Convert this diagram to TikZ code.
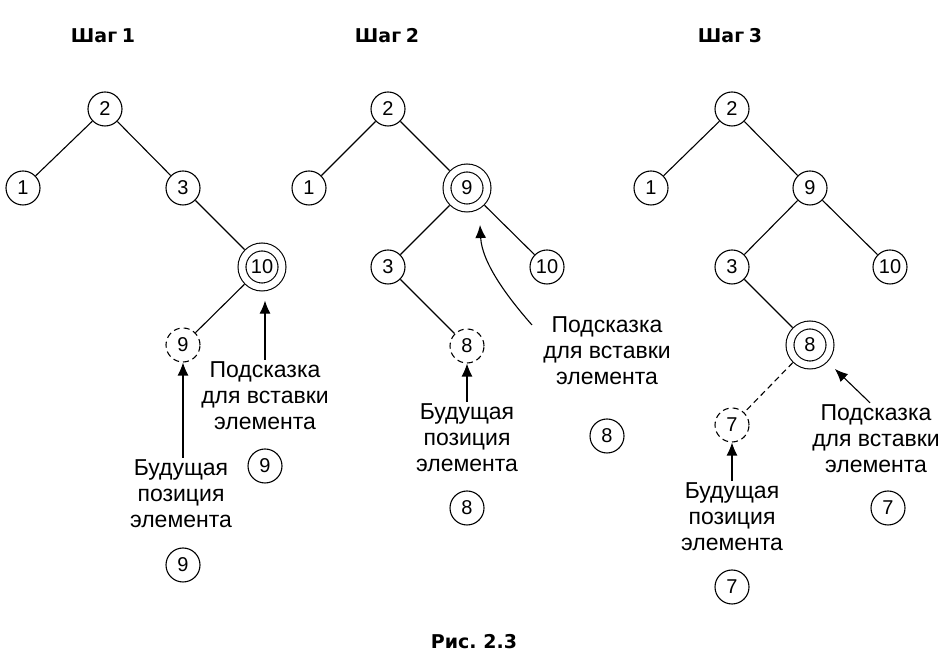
\documentclass[tikz,border=0pt]{standalone}
\usepackage{fontspec}
\setmainfont{Liberation Sans}
\newfontfamily\headfont[WordSpace=0.7]{DejaVu Sans}
\usepackage{tikz}
\usetikzlibrary{arrows.meta, positioning}
\tikzset{
    keynode/.style = {draw, circle, line width=1.1pt, minimum size=34pt, inner sep=0pt, 
      node distance=0em, font=\fontsize{20}{20}\selectfont},
    hintnode/.style = {keynode, minimum size=40pt, double, double distance=6.8pt, outer sep=4.6pt},
    futurenode/.style = {keynode, dash pattern=on 6pt off 4pt},
    textnode/.style  = {draw=none, fill=none, rectangle, inner sep=0.2em, node distance=0em, 
      align=center, font=\fontsize{23}{26}\selectfont},
    titlenode/.style = {textnode, font=\headfont\bfseries\fontsize{19}{23}\selectfont},
    connect/.style = {black, line width=1.1pt},
    pointer/.style = {black, line width=1.1pt, -{Latex[length=13pt,width=11pt]}},
}
\newcommand{\hinttext}{Подсказка\\для вставки\\элемента}
\newcommand{\postext}{Будущая\\позиция\\элемента}

\begin{document}
\begin{tikzpicture}[x=1pt, y=1pt]
    \useasboundingbox (0,0) rectangle (945,666);

    % step 1
    \node [name=s1title, titlenode] at (103,630) {Шаг 1};
    \node [name=s1two, keynode] at (105,557) {2};
    \node [name=s1one, keynode, right of = s1two, xshift=-82pt, yshift=-79pt] {1};
    \node [name=s1three, keynode, right of = s1two, xshift=78pt, yshift=-79pt] {3};
    \node [name=s1ten, hintnode, right of = s1three, xshift=79pt, yshift=-79pt] {10};
    \node [name=s1nine, futurenode, right of = s1ten, xshift=-79pt, yshift=-78pt] {9};
    \draw [connect] (s1two) -- (s1one);
    \draw [connect] (s1two) -- (s1three);
    \draw [connect] (s1three) -- (s1ten);
    \draw [connect] (s1ten) -- (s1nine);

    \node [name=s1hint, textnode] at (265,270) {\hinttext};
    \node [name=s1hkey, keynode] at (265,200) {9};
    \node [name=s1pos, textnode] at (181,172) {\postext};
    \node [name=s1pkey, keynode] at (183,101) {9};
    \draw [pointer, shorten >=9pt] (s1hint.north) -- (s1hint.north |- s1ten.south);
    \draw [pointer] (s1pos.north -| s1nine.south) -- (s1nine.south);

    % step 2
    \node [name=s2title, titlenode] at (387,630) {Шаг 2};
    \node [name=s2two, keynode] at (388,557) {2};
    \node [name=s2one, keynode, right of = s2two, xshift=-79pt, yshift=-79pt] {1};
    \node [name=s2nine, hintnode, right of = s2two, xshift=79pt, yshift=-79pt] {9};
    \node [name=s2three, keynode, right of = s2nine, xshift=-79pt, yshift=-79pt] {3};
    \node [name=s2ten, keynode, right of = s2nine, xshift=80pt, yshift=-79pt] {10};
    \node [name=s2eight, futurenode, right of = s2three, xshift=79pt, yshift=-79pt] {8};
    \draw [connect] (s2two) -- (s2one);
    \draw [connect] (s2two) -- (s2nine);
    \draw [connect] (s2nine) -- (s2three);
    \draw [connect] (s2nine) -- (s2ten);
    \draw [connect] (s2three) -- (s2eight);

    \node [name=s2hint, textnode] at (607,315) {\hinttext};
    \node [name=s2hkey, keynode] at (607,230) {8};
    \node [name=s2pos, textnode] at (467,228) {\postext};
    \node [name=s2pkey, keynode] at (467,158) {8};
    \coordinate (s2from) at (532,341);
    \coordinate (s2to) at ([xshift=13pt, yshift=-37pt]s2nine.center);
    \draw [pointer] (s2from) .. controls +(-22pt,25pt) and +(2pt,-39pt) .. (s2to);
    \draw [pointer] (s2pos.north) -- (s2eight.south);

    % step 3
    \node [name=s3title, titlenode] at (730,630) {Шаг 3};
    \node [name=s3two, keynode] at (732,557) {2};
    \node [name=s3one, keynode, right of = s3two, xshift=-81pt, yshift=-79pt] {1};
    \node [name=s3nine, keynode, right of = s3two, xshift=78pt, yshift=-79pt] {9};
    \node [name=s3three, keynode, right of = s3nine, xshift=-78pt, yshift=-79pt] {3};
    \node [name=s3ten, keynode, right of = s3nine, xshift=80pt, yshift=-79pt] {10};
    \node [name=s3eight, hintnode, right of = s3three, xshift=78pt, yshift=-78pt] {8};
    \node [name=s3seven, futurenode, right of = s3eight, xshift=-78pt, yshift=-80pt] {7};
    \draw [connect] (s3two) -- (s3one);
    \draw [connect] (s3two) -- (s3nine);
    \draw [connect] (s3nine) -- (s3three);
    \draw [connect] (s3nine) -- (s3ten);
    \draw [connect] (s3three) -- (s3eight);
    \draw [connect, dash pattern=on 6pt off 4pt] (s3eight) -- (s3seven);

    \node [name=s3hint, textnode] at (876,227) {\hinttext};
    \node [name=s3hkey, keynode] at (888,158) {7};
    \node [name=s3pos, textnode] at (732,149) {\postext};
    \node [name=s3pkey, keynode] at (732,79) {7};
    \draw [pointer, shorten >=10pt] ([xshift=-6pt]s3hint.north) -- (s3eight);
    \draw [pointer] (s3pos.north) -- (s3seven.south);

    \node [name=caption, titlenode] at (474,24) {Рис. 2.3};
\end{tikzpicture}
\end{document}
